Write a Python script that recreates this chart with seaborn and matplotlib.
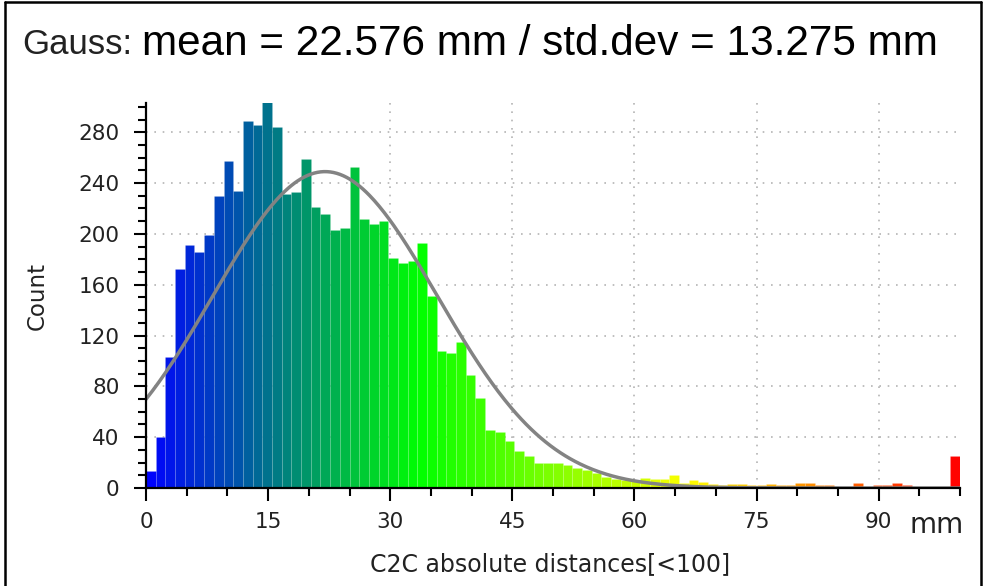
import numpy as np
import pandas as pd
import matplotlib
matplotlib.use("Agg")
import matplotlib.pyplot as plt
import seaborn as sns
from matplotlib.colors import LinearSegmentedColormap
from matplotlib.ticker import MultipleLocator
from matplotlib.lines import Line2D

# ---- data ----
counts = [13, 40, 103, 172, 191, 186, 199, 230, 257, 234,
          289, 286, 304, 284, 231, 233, 259, 221, 216, 203,
          205, 253, 212, 208, 210, 181, 177, 179, 193, 151,
          108, 106, 115, 89, 71, 46, 44, 37, 29, 25,
          20, 20, 20, 18, 16, 14, 12, 9, 7, 6,
          6, 8, 7, 7, 10, 4, 6, 5, 3, 2,
          3, 3, 2, 2, 3, 2, 2, 4, 4, 2,
          2, 1, 1, 4, 1, 2, 2, 4, 2, 1,
          1, 1, 1, 25]
x_range = [0, 100]
x_tick_step = 15
y_tick_step = 40
title_prefix = "Gauss:"
title_main = "mean = 22.576 mm / std.dev = 13.275 mm"
# gaussian curve as drawn in the reference
curve_peak = 249.0
curve_center = 22.0
curve_width = 13.8
scale_colors = ["#0000ff", "#00ff00", "#ffff00", "#ff0000"]

n_bins = len(counts)
edges = np.linspace(x_range[0], x_range[1], n_bins + 1)
centers = (edges[:-1] + edges[1:]) / 2
df = pd.DataFrame({"distance": centers, "count": np.asarray(counts, dtype=float)})

sns.set_theme(style="white")
plt.rcParams["font.family"] = ["DejaVu Sans"]

W, H = 984, 586
fig = plt.figure(figsize=(W / 100, H / 100), dpi=100)
ax_l, ax_r, ax_t, ax_b = 146, 960, 103, 488
ax = fig.add_axes([ax_l / W, 1 - ax_b / H, (ax_r - ax_l) / W, (ax_b - ax_t) / H])

sns.histplot(data=df, x="distance", weights="count", bins=n_bins,
             binrange=(x_range[0], x_range[1]), ax=ax,
             stat="count", element="bars", linewidth=0, alpha=1)
cmap = LinearSegmentedColormap.from_list("bgyr", scale_colors)
for patch, c in zip(ax.patches, centers):
    patch.set_facecolor(cmap((c - x_range[0]) / (x_range[1] - x_range[0])))
    patch.set_edgecolor((1, 1, 1, 0.10))
    patch.set_linewidth(0.6)

xs = np.linspace(x_range[0], x_range[1], 500)
ys = curve_peak * np.exp(-0.5 * ((xs - curve_center) / curve_width) ** 2)
sns.lineplot(x=xs, y=ys, ax=ax, color="#838383", linewidth=2.5)

ax.set_xlim(*x_range)
ax.set_ylim(0, 303)
ax.xaxis.set_major_locator(MultipleLocator(x_tick_step))
ax.xaxis.set_minor_locator(MultipleLocator(5))
ax.yaxis.set_major_locator(MultipleLocator(y_tick_step))
ax.yaxis.set_minor_locator(MultipleLocator(10))
ax.set_xticks([t for t in range(0, 91, x_tick_step)])
ax.set_xlabel("")
ax.set_ylabel("")

ax.grid(True, which="major", linestyle=(0, (1, 4)), color="#b4b4b4", linewidth=1.2)
ax.set_axisbelow(True)
for s in ["top", "right"]:
    ax.spines[s].set_visible(False)
for s in ["left", "bottom"]:
    ax.spines[s].set_color("black")
    ax.spines[s].set_linewidth(1.6)

ax.tick_params(axis="both", which="major", direction="out", length=9, width=1.5,
               color="black", labelsize=15.5, labelcolor="#222222", left=True, bottom=True)
ax.tick_params(axis="both", which="minor", direction="out", length=6, width=1.5,
               color="black", left=True, bottom=True)
ax.tick_params(axis="y", which="major", pad=10)
ax.tick_params(axis="x", which="major", pad=8.5)

fig.text(550 / W, 1 - 571 / H, "C2C absolute distances[<100]", ha="center", va="baseline",
         fontsize=17, color="#222222")
fig.text(37 / W, 1 - 296 / H, "Count", ha="center", va="center", rotation=90,
         fontsize=16.5, color="#222222")
fig.text(937 / W, 1 - 533 / H, "mm", ha="center", va="baseline", fontsize=20, color="#222222")

fig.text(22 / W, 1 - 54 / H, title_prefix, ha="left", va="baseline", fontsize=25,
         family="Liberation Sans", color="#222222")
fig.text(142 / W, 1 - 55 / H, title_main, ha="left", va="baseline", fontsize=30.4,
         family="Liberation Sans", color="black")

# outer frame
lw = 1.8
fig.add_artist(Line2D([4.5 / W, 4.5 / W], [0, 1 - 2 / H], transform=fig.transFigure, color="black", lw=lw))
fig.add_artist(Line2D([4.5 / W, 980.5 / W], [1 - 2 / H, 1 - 2 / H], transform=fig.transFigure, color="black", lw=lw))
fig.add_artist(Line2D([980.5 / W, 980.5 / W], [0, 1 - 2 / H], transform=fig.transFigure, color="black", lw=lw))

fig.savefig("out.png", dpi=100, facecolor="white")
